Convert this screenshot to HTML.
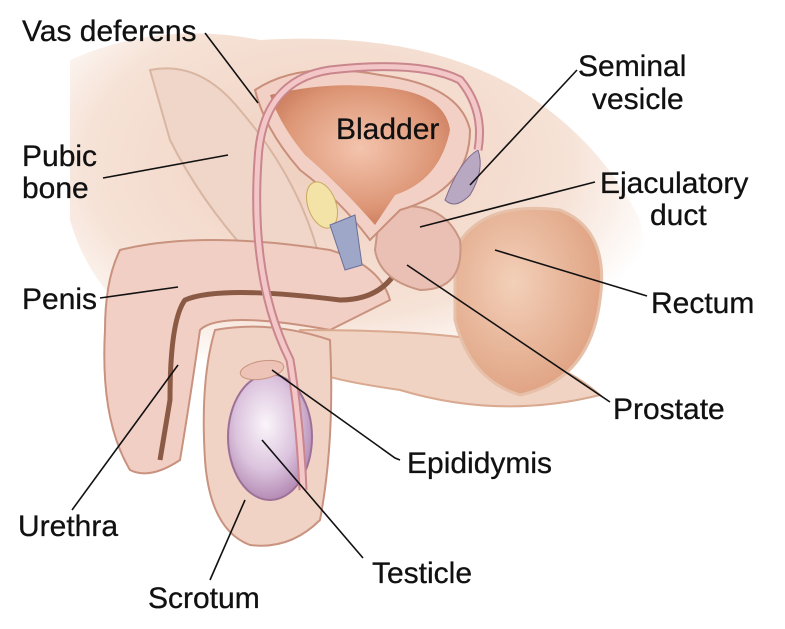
<!DOCTYPE html>
<html><head><meta charset="utf-8"><style>
html,body{margin:0;padding:0;background:#fff;}
svg{display:block}
text{font-family:"Liberation Sans",sans-serif;font-size:30px;fill:#111;stroke:#111;stroke-width:0.3;}
</style></head><body>
<svg width="785" height="629" viewBox="0 0 785 629" xmlns="http://www.w3.org/2000/svg">
<defs>
<radialGradient id="bg" cx="0.45" cy="0.35" r="0.6"><stop offset="0" stop-color="#efcfbf"/><stop offset="0.7" stop-color="#f6e2d6"/><stop offset="1" stop-color="#fff"/></radialGradient>
<radialGradient id="tes" cx="0.45" cy="0.4" r="0.6"><stop offset="0" stop-color="#faf5fa"/><stop offset="0.6" stop-color="#dcc4de"/><stop offset="1" stop-color="#b58cb5"/></radialGradient>
<radialGradient id="bl" cx="0.5" cy="0.45" r="0.6"><stop offset="0" stop-color="#f4c4ad"/><stop offset="0.7" stop-color="#dd9777"/><stop offset="1" stop-color="#c97a5a"/></radialGradient>
<radialGradient id="rec" cx="0.4" cy="0.4" r="0.7"><stop offset="0" stop-color="#f3d0b9"/><stop offset="1" stop-color="#dd9d7c"/></radialGradient>
</defs>
<path d="M70 60 Q160 20 260 40 Q420 30 520 90 Q600 140 640 220 Q660 300 600 380 Q560 410 470 400 L340 390 Q220 380 150 330 Q90 290 70 220 Z" fill="url(#bg)"/>
<path d="M150 70 Q200 60 240 110 Q300 180 320 260 Q300 280 250 255 Q200 200 170 140 Z" fill="#f0d6c8" stroke="#d9b6a2" stroke-width="2"/>
<path d="M120 250 Q200 230 330 250 Q380 265 390 300 L330 330 Q220 310 200 330 Q190 400 180 460 Q150 480 130 470 Q100 420 105 330 Q105 280 120 250 Z" fill="#f2cfc5" stroke="#c9927f" stroke-width="2"/>
<path d="M410 220 Q405 300 340 300 Q220 285 185 300 Q170 320 170 400 L160 460" fill="none" stroke="#8a5a45" stroke-width="5"/>
<path d="M300 330 Q420 330 480 340 Q560 360 600 395 Q500 420 400 390 Q330 380 310 370 Z" fill="#f1d3c4" stroke="#d9a990" stroke-width="2"/>
<path d="M455 250 Q480 200 560 210 Q610 230 600 300 Q590 380 520 395 Q470 380 455 320 Z" fill="url(#rec)" stroke="#e6c0a8" stroke-width="3"/>
<path d="M380 210 Q440 195 460 240 Q465 290 420 290 Q380 280 375 250 Z" fill="#eac0b4" stroke="#c99784" stroke-width="2"/>
<path d="M255 90 Q300 60 380 75 Q460 85 470 130 Q470 190 400 210 Q380 230 370 240 Q340 200 300 170 Q265 130 255 90 Z" fill="#f2d0c6" stroke="#c98f7a" stroke-width="2"/>
<path d="M270 95 Q330 80 390 88 Q445 95 450 130 Q440 180 395 195 L375 225 Q340 185 305 155 Q280 125 270 95 Z" fill="url(#bl)"/>
<ellipse cx="322" cy="205" rx="14" ry="24" transform="rotate(-20 322 205)" fill="#f3e3a6" stroke="#c9a960"/>
<path d="M330 225 L355 215 L362 265 L345 270 Z" fill="#9ea7c8" stroke="#6a6f9a"/>
<path d="M445 200 Q460 160 478 150 Q485 170 470 195 Q455 210 445 200 Z" fill="#b8a8c2" stroke="#7c6a8c"/>
<path d="M215 330 Q270 320 330 340 Q335 440 320 520 Q290 550 250 545 Q210 530 205 460 Q200 380 215 330 Z" fill="#f1d3c6" stroke="#c99380" stroke-width="2"/>
<ellipse cx="270" cy="437" rx="42" ry="63" fill="url(#tes)" stroke="#9d7197" stroke-width="2"/>
<ellipse cx="262" cy="370" rx="22" ry="9" transform="rotate(-10 262 370)" fill="#ecc3b6" stroke="#c99380"/>
<path d="M303 490 Q300 420 290 360 Q250 280 258 160 Q262 80 330 70 Q420 60 460 80 Q485 110 478 150" fill="none" stroke="#c9868c" stroke-width="9"/>
<path d="M303 490 Q300 420 290 360 Q250 280 258 160 Q262 80 330 70 Q420 60 460 80 Q485 110 478 150" fill="none" stroke="#f3c6c8" stroke-width="5"/>
<g stroke="#111" stroke-width="1.6" fill="none">
<line x1="205" y1="33" x2="258" y2="103"/>
<line x1="103" y1="178" x2="228" y2="155"/>
<line x1="100" y1="298" x2="178" y2="287"/>
<line x1="72" y1="510" x2="178" y2="365"/>
<line x1="210" y1="580" x2="245" y2="500"/>
<line x1="363" y1="558" x2="262" y2="440"/>
<polyline points="400,460 395,458 272,370"/>
<line x1="610" y1="402" x2="407" y2="265"/>
<line x1="647" y1="296" x2="495" y2="250"/>
<line x1="595" y1="182" x2="420" y2="227"/>
<line x1="577" y1="70" x2="470" y2="185"/>
</g>
<text x="22" y="41">Vas deferens</text>
<text x="22" y="166">Pubic</text>
<text x="22" y="198">bone</text>
<text x="22" y="309">Penis</text>
<text x="18" y="536">Urethra</text>
<text x="148" y="608">Scrotum</text>
<text x="372" y="583">Testicle</text>
<text x="407" y="473">Epididymis</text>
<text x="613" y="419">Prostate</text>
<text x="651" y="313">Rectum</text>
<text x="600" y="193">Ejaculatory</text>
<text x="650" y="225">duct</text>
<text x="578" y="76">Seminal</text>
<text x="592" y="109">vesicle</text>
<text x="336" y="139">Bladder</text>
</svg>
</body></html>
